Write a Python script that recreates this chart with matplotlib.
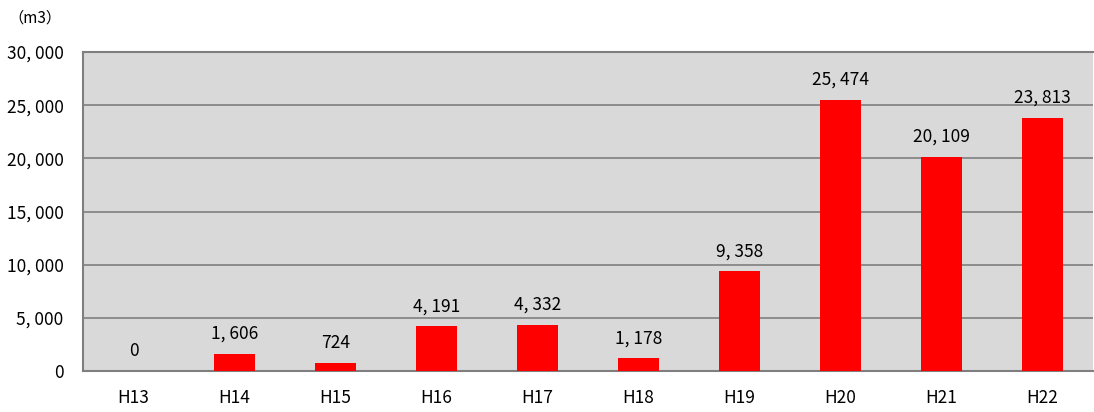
import matplotlib
matplotlib.use("Agg")
import matplotlib.pyplot as plt
from matplotlib.ticker import FuncFormatter

categories = ["H13", "H14", "H15", "H16", "H17", "H18", "H19", "H20", "H21", "H22"]
values = [0, 1606, 724, 4191, 4332, 1178, 9358, 25474, 20109, 23813]
yticks = [0, 5000, 10000, 15000, 20000, 25000, 30000]

plt.rcParams['font.family'] = ['Noto Sans CJK JP', 'DejaVu Sans']

def fmt(v):
    return f"{int(v):,}".replace(",", ", ")

fig = plt.figure(figsize=(10.94, 4.12), dpi=100)
ax = fig.add_axes([83/1094, 41/412, 1010/1094, 319/412])
ax.set_facecolor("#D9D9D9")
x = list(range(len(categories)))
bars = ax.bar(x, values, width=0.4, color="#FF0000", zorder=3)
ax.set_xlim(-0.5, len(categories) - 0.5)
ax.set_ylim(0, 30000)
ax.set_yticks(yticks)
ax.yaxis.set_major_formatter(FuncFormatter(lambda v, p: fmt(v)))
ax.set_xticks(x)
ax.set_xticklabels(categories)
ax.grid(axis="y", color="#7F7F7F", linewidth=1.2, zorder=1)
ax.tick_params(axis="both", length=0, labelsize=12.5)
ax.tick_params(axis="x", pad=13)
ax.tick_params(axis="y", pad=14)
for s in ["left", "bottom", "top"]:
    ax.spines[s].set_color("#7F7F7F")
    ax.spines[s].set_linewidth(1.5)
ax.spines["right"].set_visible(False)
for xi, v in zip(x, values):
    ax.annotate(fmt(v), (xi, v), xytext=(0, 8), textcoords="offset points",
                ha="center", va="bottom", fontsize=12.5)
fig.text(8/1094, 1 - 18/412, "（m3）", fontsize=11, va="center", ha="left")
fig.savefig("out.png", dpi=100)
